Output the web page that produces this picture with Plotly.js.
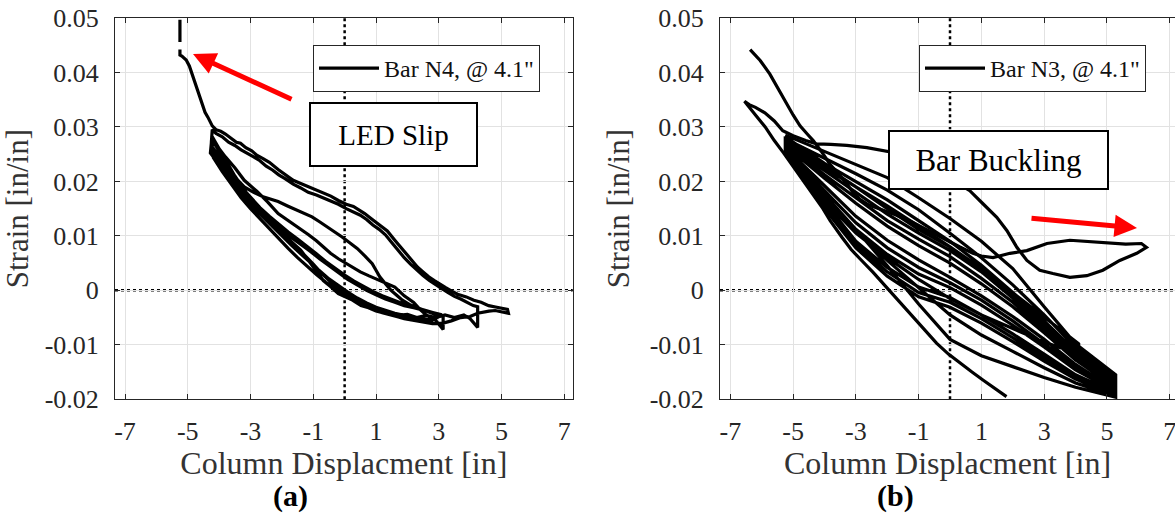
<!DOCTYPE html>
<html><head><meta charset="utf-8">
<script src="https://cdn.plot.ly/plotly-3.0.1.min.js"></script>
<style>html,body{margin:0;padding:0;background:#fff;}#chart{width:1175px;height:517px;}</style>
</head><body><div id="chart"></div>
<script>
window.addEventListener('error', function (e) { console.error('STACK: ' + (e.error && e.error.stack)); });

// ---------- tick labels ----------
const xTickVals = [-7, -5, -3, -1, 1, 3, 5, 7];
const xTickText = ['-7', '-5', '-3', '-1', '1', '3', '5', '7'];
const yTickVals = [-0.02, -0.01, 0, 0.01, 0.02, 0.03, 0.04, 0.05];
const yTickText = ['-0.02', '-0.01', '0', '0.01', '0.02', '0.03', '0.04', '0.05'];

// ---------- (a) Bar N4, @ 4.1" : [displacement in, strain in/in] ----------
const n4SlipTop = [[-5.25,0.0497],[-5.25,0.0456]];
const n4Descent = [[-5.25,0.0442],[-5.25,0.0432],[-5.19,0.0430],[-5.05,0.0423],[-4.95,0.0412],[-4.88,0.0400],[-4.80,0.0385],[-4.72,0.0372],[-4.64,0.0358],[-4.58,0.0345],[-4.52,0.0335],[-4.45,0.0327],[-4.36,0.0318],[-4.28,0.0310],[-4.22,0.0302]];
const n4Upper1 = [[-4.10,0.0295],[-3.95,0.0292],[-3.80,0.0287],[-3.60,0.0278],[-3.45,0.0272],[-3.32,0.0270],[-3.15,0.0262],[-2.96,0.0256],[-2.80,0.0248],[-2.60,0.0242],[-2.40,0.0235],[-2.12,0.0222],[-1.90,0.0212],[-1.64,0.0202],[-1.40,0.0196],[-1.16,0.0190],[-0.90,0.0183],[-0.68,0.0178],[-0.44,0.0173],[-0.20,0.0165],[0.05,0.0158],[0.28,0.0154],[0.45,0.0148],[0.64,0.0141],[0.82,0.0133],[1.00,0.0125],[1.20,0.0117],[1.36,0.0109],[1.60,0.0092],[1.78,0.0080],[1.96,0.0067],[2.15,0.0055],[2.32,0.0043],[2.50,0.0034],[2.68,0.0025],[2.86,0.0018],[3.04,0.0011],[3.22,0.0005],[3.40,-0.0001],[3.60,-0.0007],[3.88,-0.0012],[4.12,-0.0018],[4.35,-0.0022],[4.59,-0.0028],[4.85,-0.0031],[5.05,-0.0033],[5.19,-0.0035],[5.22,-0.0042]];
const n4Return1 = [[5.00,-0.0040],[4.80,-0.0037],[4.60,-0.0038],[4.40,-0.0040],[4.24,-0.0042],[4.00,-0.0048],[3.70,-0.0050],[3.40,-0.0056],[3.14,-0.0060],[2.80,-0.0061],[2.50,-0.0058],[2.20,-0.0054],[1.90,-0.0052],[1.60,-0.0047],[1.30,-0.0043],[1.00,-0.0038],[0.76,-0.0032],[0.52,-0.0028],[0.25,-0.0018],[0.00,-0.0012],[-0.20,-0.0006],[-0.45,0.0007],[-0.68,0.0018],[-0.86,0.0032],[-1.04,0.0045],[-1.22,0.0060],[-1.40,0.0074],[-1.70,0.0089],[-2.00,0.0104],[-2.30,0.0120],[-2.60,0.0136],[-2.90,0.0154],[-3.20,0.0172],[-3.50,0.0194],[-3.80,0.0216],[-4.05,0.0236],[-4.28,0.0252],[-4.25,0.0270],[-4.22,0.0295]];
const n4Upper2 = [[-4.10,0.0288],[-3.90,0.0282],[-3.70,0.0272],[-3.50,0.0266],[-3.30,0.0258],[-3.10,0.0252],[-2.90,0.0245],[-2.70,0.0238],[-2.50,0.0228],[-2.30,0.0221],[-2.10,0.0212],[-1.90,0.0205],[-1.64,0.0195],[-1.40,0.0188],[-1.16,0.0180],[-0.90,0.0175],[-0.68,0.0170],[-0.44,0.0164],[-0.20,0.0158],[0.05,0.0150],[0.28,0.0144],[0.50,0.0138],[0.70,0.0130],[0.90,0.0120],[1.10,0.0112],[1.30,0.0102],[1.50,0.0088],[1.70,0.0073],[1.90,0.0060],[2.10,0.0048],[2.30,0.0037],[2.50,0.0027],[2.70,0.0018],[2.90,0.0010],[3.10,0.0003],[3.30,-0.0004],[3.50,-0.0011],[3.70,-0.0016],[3.90,-0.0022],[4.10,-0.0028],[4.24,-0.0030],[4.24,-0.0068]];
const n4Return2 = [[4.00,-0.0052],[3.80,-0.0045],[3.50,-0.0050],[3.20,-0.0045],[2.90,-0.0050],[2.60,-0.0046],[2.30,-0.0050],[2.00,-0.0044],[1.70,-0.0046],[1.40,-0.0040],[1.10,-0.0036],[0.80,-0.0030],[0.50,-0.0022],[0.20,-0.0012],[0.00,-0.0005],[-0.25,0.0005],[-0.50,0.0018],[-0.75,0.0032],[-1.00,0.0048],[-1.25,0.0064],[-1.50,0.0078],[-1.80,0.0095],[-2.10,0.0112],[-2.40,0.0128],[-2.70,0.0145],[-3.00,0.0162],[-3.30,0.0183],[-3.60,0.0205],[-3.90,0.0228],[-4.20,0.0252],[-4.25,0.0275]];
const n4Middle1 = [[-4.10,0.0265],[-3.90,0.0245],[-3.60,0.0218],[-3.40,0.0202],[-3.20,0.0190],[-2.90,0.0180],[-2.60,0.0172],[-2.35,0.0168],[-2.12,0.0163],[-1.82,0.0155],[-1.52,0.0147],[-1.28,0.0141],[-1.04,0.0135],[-0.80,0.0126],[-0.56,0.0117],[-0.30,0.0108],[-0.08,0.0098],[0.15,0.0088],[0.40,0.0077],[0.65,0.0063],[0.88,0.0049],[1.00,0.0037],[1.12,0.0025],[1.30,0.0012],[1.48,0.0000],[1.66,-0.0009],[1.84,-0.0018],[2.10,-0.0027],[2.40,-0.0034],[2.70,-0.0040],[2.95,-0.0045],[3.14,-0.0047],[3.14,-0.0072]];
const n4Return3 = [[2.90,-0.0055],[2.60,-0.0045],[2.40,-0.0035],[2.20,-0.0022],[1.90,-0.0010],[1.60,0.0006],[1.36,0.0012],[1.12,0.0017],[0.90,0.0022],[0.76,0.0027],[0.50,0.0034],[0.25,0.0042],[0.04,0.0049],[-0.20,0.0058],[-0.45,0.0068],[-0.68,0.0080],[-0.90,0.0091],[-1.15,0.0102],[-1.40,0.0112],[-1.75,0.0126],[-2.12,0.0141],[-2.45,0.0162],[-2.80,0.0182],[-3.20,0.0202],[-3.50,0.0225],[-3.80,0.0245],[-4.00,0.0260],[-4.16,0.0276],[-4.25,0.0285]];
const n4Middle2 = [[-4.10,0.0270],[-3.80,0.0240],[-3.50,0.0210],[-3.20,0.0185],[-2.90,0.0160],[-2.60,0.0142],[-2.30,0.0125],[-2.00,0.0110],[-1.70,0.0097],[-1.40,0.0085],[-1.10,0.0072],[-0.80,0.0058],[-0.50,0.0045],[-0.20,0.0032],[0.10,0.0020],[0.40,0.0010],[0.70,0.0000],[1.00,-0.0008],[1.30,-0.0016],[1.60,-0.0022],[1.90,-0.0028],[2.20,-0.0032],[2.50,-0.0036],[2.80,-0.0040],[3.10,-0.0045]];
const n4Return4 = [[2.80,-0.0055],[2.50,-0.0052],[2.20,-0.0050],[1.90,-0.0046],[1.60,-0.0042],[1.30,-0.0037],[1.00,-0.0031],[0.70,-0.0023],[0.40,-0.0014],[0.10,-0.0003],[-0.20,0.0009],[-0.50,0.0021],[-0.80,0.0036],[-1.10,0.0051],[-1.40,0.0067],[-1.70,0.0083],[-2.00,0.0100],[-2.30,0.0117],[-2.60,0.0134],[-2.90,0.0152],[-3.20,0.0172],[-3.50,0.0193],[-3.80,0.0216],[-4.10,0.0240],[-4.25,0.0255]];
const n4Middle3 = [[-4.20,0.0262],[-3.90,0.0236],[-3.60,0.0212],[-3.30,0.0190],[-3.00,0.0170],[-2.70,0.0152],[-2.40,0.0136],[-2.10,0.0121],[-1.80,0.0107],[-1.50,0.0094],[-1.20,0.0081],[-0.90,0.0067],[-0.60,0.0053],[-0.30,0.0040],[0.00,0.0028],[0.30,0.0017],[0.60,0.0007],[0.90,-0.0002],[1.20,-0.0010],[1.50,-0.0017],[1.80,-0.0023],[2.10,-0.0029],[2.40,-0.0034],[2.70,-0.0039],[3.00,-0.0044]];
const n4Return5 = [[2.70,-0.0058],[2.40,-0.0056],[2.10,-0.0053],[1.80,-0.0050],[1.50,-0.0046],[1.20,-0.0041],[0.90,-0.0035],[0.60,-0.0028],[0.30,-0.0019],[0.00,-0.0009],[-0.30,0.0003],[-0.60,0.0015],[-0.90,0.0029],[-1.20,0.0044],[-1.50,0.0060],[-1.80,0.0077],[-2.10,0.0095],[-2.40,0.0113],[-2.70,0.0131],[-3.00,0.0150],[-3.30,0.0170],[-3.60,0.0193],[-3.90,0.0218],[-4.20,0.0245]];

// ---------- (b) Bar N3, @ 4.1" : [displacement in, strain in/in] ----------
const n3LastLoop = [[1.80,-0.0195],[1.45,-0.0180],[1.06,-0.0165],[0.70,-0.0150],[0.32,-0.0134],[-0.05,-0.0117],[-0.43,-0.0097],[-0.80,-0.0073],[-1.17,-0.0049],[-1.60,-0.0022],[-2.02,0.0006],[-2.45,0.0033],[-2.87,0.0058],[-3.15,0.0075],[-3.45,0.0098],[-3.82,0.0128],[-4.05,0.0150],[-4.35,0.0175],[-4.70,0.0202],[-5.00,0.0228],[-5.30,0.0252],[-5.60,0.0275],[-5.89,0.0300],[-6.20,0.0322],[-6.55,0.0347]];
const n3Buckle = [[-6.40,0.0341],[-6.20,0.0336],[-5.90,0.0326],[-5.60,0.0311],[-5.33,0.0293],[-5.00,0.0284],[-4.60,0.0275],[-4.25,0.0269],[-3.80,0.0268],[-3.29,0.0266],[-2.65,0.0262],[-2.30,0.0258],[-2.01,0.0256],[-1.50,0.0250],[-1.00,0.0240],[-0.50,0.0225],[0.00,0.0205],[0.30,0.0195],[0.63,0.0183],[1.05,0.0159],[1.49,0.0134],[1.81,0.0110],[2.13,0.0079],[2.45,0.0055],[2.86,0.0037],[3.28,0.0031],[3.82,0.0024],[4.36,0.0027],[4.87,0.0037],[5.41,0.0055],[5.95,0.0068],[6.26,0.0079]];
const n3BuckleReturn = [[6.10,0.0086],[5.60,0.0085],[4.87,0.0088],[4.30,0.0090],[3.82,0.0092],[3.09,0.0086],[2.45,0.0073],[1.91,0.0068],[1.37,0.0060],[1.00,0.0063],[0.73,0.0068],[0.30,0.0080],[-0.20,0.0095],[-0.70,0.0110],[-1.20,0.0125],[-1.70,0.0138],[-2.20,0.0148],[-2.60,0.0157],[-2.87,0.0167],[-3.10,0.0180],[-3.29,0.0196],[-3.55,0.0213],[-3.83,0.0232],[-4.10,0.0255],[-4.36,0.0275],[-4.55,0.0287],[-4.78,0.0302],[-5.00,0.0322],[-5.20,0.0342],[-5.45,0.0368],[-5.74,0.0397],[-6.05,0.0422],[-6.37,0.0442]];
// earlier cycles (upper branches run right; lower branches are listed left-to-right and travelled leftwards)
const n3Up1 = [[-5.25,0.0285],[-4,0.0255],[-3,0.0232],[-2,0.0207],[-1,0.0170],[0,0.0132],[1,0.0090],[2,0.0040],[3,-0.0030],[4,-0.0098],[5.28,-0.0155]];
const n3Lo1 = [[-5.25,0.0253],[-4,0.0150],[-3,0.0078],[-2,0.0026],[-1,-0.0012],[0,-0.0031],[1,-0.0060],[2,-0.0094],[3,-0.0130],[4,-0.0163],[5.28,-0.0192]];
const n3Up2 = [[-5.25,0.0278],[-4,0.0243],[-3,0.0214],[-2,0.0184],[-1,0.0148],[0,0.0105],[1,0.0060],[2,0.0010],[3,-0.0045],[4,-0.0105],[5.28,-0.0160]];
const n3Lo2 = [[-5.25,0.0256],[-4,0.0162],[-3,0.0090],[-2,0.0042],[-1,0.0006],[0,-0.0013],[1,-0.0045],[2,-0.0080],[3,-0.0117],[4,-0.0155],[5.28,-0.0189]];
const n3Up3 = [[-5.25,0.0282],[-4,0.0233],[-3,0.0200],[-2,0.0166],[-1,0.0128],[0,0.0090],[1,0.0046],[2,-0.0004],[3,-0.0056],[4,-0.0112],[5.28,-0.0166]];
const n3Lo3 = [[-5.25,0.0250],[-4,0.0168],[-3,0.0110],[-2,0.0055],[-1,0.0005],[0,-0.0045],[1,-0.0082],[2,-0.0112],[3,-0.0142],[4,-0.0170],[5.28,-0.0194]];
const n3Up4 = [[-5.25,0.0270],[-4,0.0220],[-3,0.0180],[-2,0.0140],[-1,0.0105],[0,0.0073],[1,0.0034],[2,-0.0014],[3,-0.0066],[4,-0.0120],[5.28,-0.0172]];
const n3Lo4 = [[-5.25,0.0258],[-4,0.0176],[-3,0.0112],[-2,0.0066],[-1,0.0030],[0,0.0005],[1,-0.0027],[2,-0.0064],[3,-0.0104],[4,-0.0146],[5.28,-0.0186]];
const n3Up5 = [[-5.25,0.0266],[-4,0.0206],[-3,0.0160],[-2,0.0118],[-1,0.0082],[0,0.0050],[1,0.0012],[2,-0.0030],[3,-0.0078],[4,-0.0128],[5.28,-0.0178]];
const n3Lo5 = [[-5.25,0.0255],[-4,0.0175],[-3,0.0112],[-2,0.0045],[-1,-0.0025],[0,-0.0090],[1,-0.0120],[2,-0.0140],[3,-0.0160],[4,-0.0178],[5.28,-0.0196]];
const n3Up6 = [[-5.25,0.0272],[-4,0.0225],[-3,0.0190],[-2,0.0155],[-1,0.0118],[0,0.0080],[1,0.0040],[2,-0.0005],[3,-0.0050],[4.1,-0.0098],[4.1,-0.0117]];
const n3Lo6 = [[-5.25,0.0260],[-4,0.0165],[-3,0.0105],[-2,0.0060],[-1,0.0020],[0,-0.0015],[1,-0.0045],[2,-0.0070],[3,-0.0095]];
const n3Up7 = [[-5.25,0.0262],[-4,0.0192],[-3,0.0136],[-2,0.0092],[-1,0.0056],[0,0.0024],[1,-0.0010],[2,-0.0048],[3,-0.0090],[4,-0.0136],[5.28,-0.0183]];
const n3Lo7 = [[-5.25,0.0257],[-4,0.0184],[-3,0.0124],[-2,0.0078],[-1,0.0042],[0,0.0014],[1,-0.0018],[2,-0.0056],[3,-0.0098],[4,-0.0141],[5.28,-0.0184]];
const n3Up8 = [[-5.25,0.0268],[-4,0.0212],[-3,0.0170],[-2,0.0128],[-1,0.0094],[0,0.0062],[1,0.0022],[2,-0.0022],[3,-0.0072],[4,-0.0124],[5.28,-0.0175]];
const n3Lo8 = [[-5.25,0.0254],[-4,0.0156],[-3,0.0084],[-2,0.0034],[-1,-0.0004],[0,-0.0022],[1,-0.0052],[2,-0.0087],[3,-0.0124],[4,-0.0159],[5.28,-0.0191]];
const n3Up9 = [[-5.25,0.0275],[-4,0.0228],[-3,0.0190],[-2,0.0150],[-1,0.0112],[0,0.0080],[1,0.0040],[2,-0.0008],[3,-0.0060],[4,-0.0116],[5.28,-0.0169]];

function joinSegments(segs) {
  const x = [], y = [];
  segs.forEach(s => {
    if (s === null) { x.push(null); y.push(null); }
    else s.forEach(p => { x.push(p[0]); y.push(p[1]); });
  });
  return {x, y};
}
const rev = a => a.slice().reverse();

const n4 = joinSegments([n4SlipTop, null, n4Descent, n4Upper1, n4Return1, n4Upper2, n4Return2,
  n4Middle1, n4Return3, n4Middle2, n4Return4, n4Middle3, n4Return5]);
const n3 = joinSegments([n3LastLoop, n3Buckle, n3BuckleReturn, null,
  n3Up1, rev(n3Lo1), n3Up2, rev(n3Lo2), n3Up3, rev(n3Lo3), n3Up4, rev(n3Lo4), n3Up5, rev(n3Lo5),
  n3Up6, rev(n3Lo6), n3Up7, rev(n3Lo7), n3Up8, rev(n3Lo8), n3Up9]);

const SERIF = 'Liberation Serif, Times New Roman, serif';
const INK = '#262626';

const traces = [
  {x: n4.x, y: n4.y, type: 'scatter', mode: 'lines', name: 'Bar N4, @ 4.1"', connectgaps: false,
   line: {color: '#000', width: 3.2}, xaxis: 'x', yaxis: 'y', legend: 'legend'},
  {x: n3.x, y: n3.y, type: 'scatter', mode: 'lines', name: 'Bar N3, @ 4.1"', connectgaps: false,
   line: {color: '#000', width: 3.2}, xaxis: 'x2', yaxis: 'y2', legend: 'legend2'}
];

function xAxis(domain, range, anchor) {
  return {domain, range, anchor, mirror: 'ticks', showline: true, linecolor: INK, linewidth: 1,
    ticks: 'inside', ticklen: 5, tickwidth: 1, tickcolor: INK,
    showgrid: true, gridcolor: '#e2e2e2', gridwidth: 1, zeroline: false,
    tickmode: 'array', tickvals: xTickVals, ticktext: xTickText, ticklabeloverflow: 'allow',
    tickfont: {family: SERIF, size: 26, color: INK}, ticklabelstandoff: 8,
    title: {text: 'Column Displacment [in]', font: {family: SERIF, size: 32, color: '#333'}, standoff: 6},
    automargin: false, fixedrange: true};
}
function yAxis(domain, anchor, mirror) {
  return {domain, range: [-0.02, 0.05], anchor, mirror, showline: true, linecolor: INK, linewidth: 1,
    ticks: 'inside', ticklen: 5, tickwidth: 1, tickcolor: INK,
    showgrid: true, gridcolor: '#e2e2e2', gridwidth: 1, zeroline: false,
    tickmode: 'array', tickvals: yTickVals, ticktext: yTickText,
    tickfont: {family: SERIF, size: 26, color: INK}, ticklabelstandoff: 10,
    title: {text: 'Strain [in/in]', font: {family: SERIF, size: 31, color: '#333'}, standoff: 10},
    automargin: false, fixedrange: true};
}

const W = 1175, H = 517;
const yDom = [(H - 399.3) / H, (H - 18) / H];

const zeroLine = {color: '#000', width: 2.5, dash: 'dot'};
const shapes = [
  {type: 'line', xref: 'x', yref: 'y domain', x0: 0, x1: 0, y0: 0, y1: 1, line: zeroLine, layer: 'below'},
  {type: 'line', xref: 'x domain', yref: 'y', x0: 0, x1: 1, y0: 0, y1: 0, line: zeroLine, layer: 'below'},
  {type: 'line', xref: 'x2', yref: 'y2 domain', x0: 0, x1: 0, y0: 0, y1: 1, line: zeroLine, layer: 'below'},
  {type: 'line', xref: 'x2 domain', yref: 'y2', x0: 0, x1: 1, y0: 0, y1: 0, line: zeroLine, layer: 'below'}
];

const legendCommon = {xanchor: 'left', yanchor: 'top', bgcolor: '#fff', bordercolor: INK, borderwidth: 1,
  font: {family: SERIF, size: 24, color: '#111'}, itemwidth: 60};

const annotations = [
  {xref: 'paper', yref: 'paper', x: 393.5 / W, y: (H - 134.5) / H, text: 'LED Slip', showarrow: false,
   font: {family: SERIF, size: 29, color: '#000'}, bgcolor: '#fff', bordercolor: '#000', borderwidth: 2,
   borderpad: 2, width: 161, height: 57, xanchor: 'center', yanchor: 'middle'},
  {xref: 'paper', yref: 'paper', x: 998.5 / W, y: (H - 160) / H, text: 'Bar Buckling', showarrow: false,
   font: {family: SERIF, size: 31, color: '#000'}, bgcolor: '#fff', bordercolor: '#000', borderwidth: 2,
   borderpad: 2, width: 213, height: 52, xanchor: 'center', yanchor: 'middle'},
  {xref: 'paper', yref: 'paper', x: 193 / W, y: (H - 54) / H, text: '', showarrow: true,
   ax: 100, ay: 46, arrowcolor: '#ff0000', arrowwidth: 5, arrowhead: 2, arrowsize: 0.9, standoff: 0},
  {xref: 'paper', yref: 'paper', x: 1137 / W, y: (H - 228) / H, text: '', showarrow: true,
   ax: -107, ay: -10, arrowcolor: '#ff0000', arrowwidth: 5, arrowhead: 2, arrowsize: 0.9, standoff: 0},
  {xref: 'paper', yref: 'paper', x: 290 / W, y: (H - 496) / H, text: '<b>(a)</b>', showarrow: false,
   font: {family: SERIF, size: 30, color: '#000'}, xanchor: 'center', yanchor: 'middle'},
  {xref: 'paper', yref: 'paper', x: 895 / W, y: (H - 496) / H, text: '<b>(b)</b>', showarrow: false,
   font: {family: SERIF, size: 30, color: '#000'}, xanchor: 'center', yanchor: 'middle'}
];

const layout = {
  width: W, height: H, margin: {l: 0, r: 0, t: 0, b: 0},
  paper_bgcolor: '#fff', plot_bgcolor: '#fff',
  xaxis: xAxis([115 / W, 572.7 / W], [-7.32, 7.27], 'y'),
  yaxis: yAxis(yDom, 'x', 'ticks'),
  xaxis2: xAxis([720 / W, 1], [-7.33, 7.17], 'y2'),
  yaxis2: yAxis(yDom, 'x2', false),
  legend: Object.assign({x: 313 / W, y: (H - 45) / H}, legendCommon),
  legend2: Object.assign({x: 919 / W, y: (H - 45) / H}, legendCommon),
  showlegend: true,
  shapes, annotations
};

Plotly.newPlot('chart', traces, layout, {displayModeBar: false});
</script>
</body></html>
